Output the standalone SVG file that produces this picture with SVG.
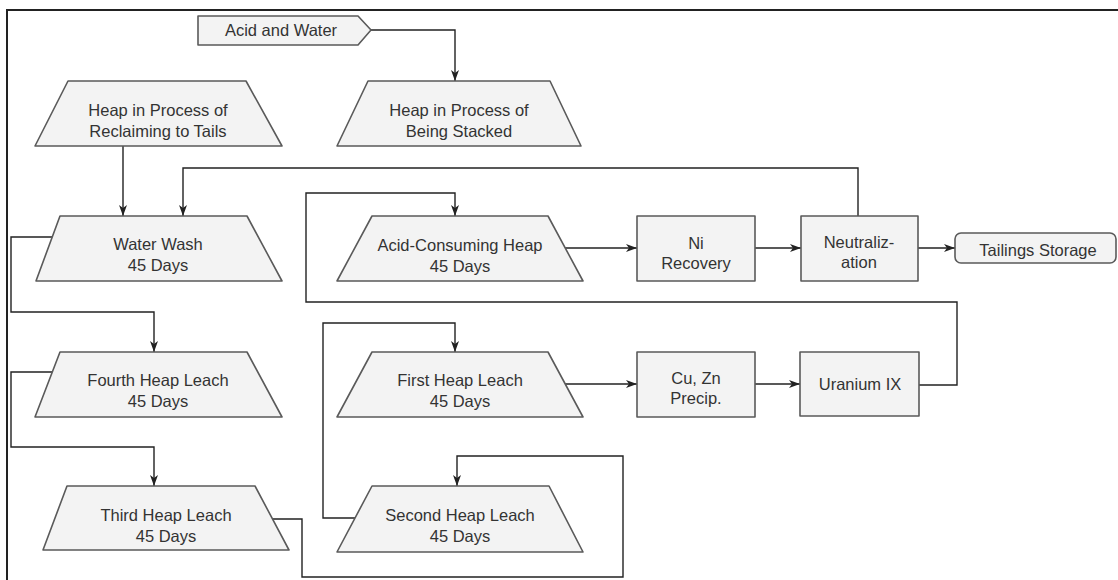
<svg xmlns="http://www.w3.org/2000/svg" width="1118" height="580" viewBox="0 0 1118 580">
<defs>
<style>
.node{fill:#f3f3f3;stroke:#5a5a5a;stroke-width:1.6;stroke-linejoin:round}
.t{font-family:"Liberation Sans",Arial,sans-serif;font-size:16.5px;fill:#333;text-anchor:middle}
.c{fill:none;stroke:#222;stroke-width:1.4;marker-end:url(#ah)}
.frame{fill:none;stroke:#222;stroke-width:2}
</style>
<marker id="ah" markerUnits="userSpaceOnUse" markerWidth="11" markerHeight="8" refX="11" refY="4" orient="auto">
<path d="M0,0 L11,4 L0,8 L3,4 z" fill="#222"/>
</marker>
</defs>
<rect width="1118" height="580" fill="#fff"/>
<path class="frame" d="M7,580 V10 H1118"/>
<g id="connectors">
<path class="c" d="M371,30 H455 V81"/>
<path class="c" d="M123,146 V216"/>
<path class="c" d="M858,216 V168 H183 V216"/>
<path class="c" d="M52,237 H11 V312 H154 V352"/>
<path class="c" d="M52,372 H11 V447 H154 V486"/>
<path class="c" d="M272,519 H302 V577 H623 V456 H457 V486"/>
<path class="c" d="M355,518 H323 V323 H455 V352"/>
<path class="c" d="M565,384 H637"/>
<path class="c" d="M755,384 H800"/>
<path class="c" d="M919,385 H957 V302 H306 V193 H455 V216"/>
<path class="c" d="M565,248 H637"/>
<path class="c" d="M755,248 H801"/>
<path class="c" d="M918,248 H955"/>
</g>
<g id="acid-water"><polygon class="node" points="198,16 358,16 371,30 358,45 198,45"/><text class="t" x="281" y="36">Acid and Water</text></g>
<g id="reclaiming"><polygon class="node" points="68,81 246,81 282,146 35,146"/><text class="t" x="158" y="116">Heap in Process of</text><text class="t" x="158" y="137">Reclaiming to Tails</text></g>
<g id="stacked"><polygon class="node" points="368,81 550,81 581,146 337,146"/><text class="t" x="459" y="116">Heap in Process of</text><text class="t" x="459" y="137">Being Stacked</text></g>
<g id="water-wash"><polygon class="node" points="60,216 247,216 282,281 36,281"/><text class="t" x="158" y="250">Water Wash</text><text class="t" x="158" y="271">45 Days</text></g>
<g id="fourth"><polygon class="node" points="60,352 247,352 282,417 35,417"/><text class="t" x="158" y="386">Fourth Heap Leach</text><text class="t" x="158" y="407">45 Days</text></g>
<g id="third"><polygon class="node" points="67,486 255,486 289,550 43,550"/><text class="t" x="166" y="521">Third Heap Leach</text><text class="t" x="166" y="542">45 Days</text></g>
<g id="acid-consuming"><polygon class="node" points="372,216 548,216 583,281 337,281"/><text class="t" x="460" y="251">Acid-Consuming Heap</text><text class="t" x="460" y="272">45 Days</text></g>
<g id="first"><polygon class="node" points="372,352 548,352 583,417 337,417"/><text class="t" x="460" y="386">First Heap Leach</text><text class="t" x="460" y="407">45 Days</text></g>
<g id="second"><polygon class="node" points="372,486 549,486 583,552 337,552"/><text class="t" x="460" y="521">Second Heap Leach</text><text class="t" x="460" y="542">45 Days</text></g>
<g id="ni"><rect class="node" x="637" y="216" width="118" height="65"/><text class="t" x="696" y="249">Ni</text><text class="t" x="696" y="269">Recovery</text></g>
<g id="neutralization"><rect class="node" x="801" y="216" width="117" height="65"/><text class="t" x="859" y="248">Neutraliz-</text><text class="t" x="859" y="268">ation</text></g>
<g id="tailings"><rect class="node" x="955" y="233" width="161" height="30" rx="6"/><text class="t" x="1038" y="256">Tailings Storage</text></g>
<g id="cuzn"><rect class="node" x="637" y="352" width="118" height="65"/><text class="t" x="696" y="384">Cu, Zn</text><text class="t" x="696" y="404">Precip.</text></g>
<g id="uranium"><rect class="node" x="800" y="352" width="119" height="64"/><text class="t" x="860" y="390">Uranium IX</text></g>
</svg>
